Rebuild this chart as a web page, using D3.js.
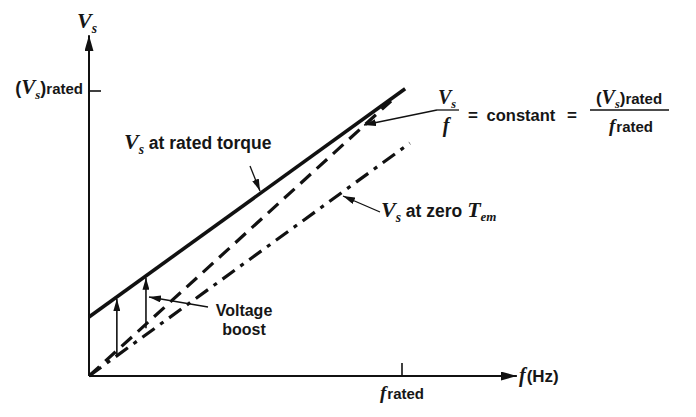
<!DOCTYPE html>
<html>
<head>
<meta charset="utf-8">
<script src="https://cdn.jsdelivr.net/npm/d3@7"></script>
<style>
  body { margin: 0; background: #fff; }
  text { font-family: "Liberation Sans", Arial, sans-serif; font-weight: bold; fill: #161616; }
  .it { font-family: "Liberation Serif", serif; font-style: italic; font-weight: bold; }
</style>
</head>
<body>
<svg id="chart" width="696" height="417"></svg>
<script>
// Per-unit values (f / f_rated, Vs / (Vs)rated)
const axisMax = { f: 1.367, v: 1.196 };
const ratedTorque = [[0, 0.207], [1.01, 1.008]];   // solid
const constantVf = [[0, 0], [0.965, 0.965]];        // dashed, Vs/f = const
const zeroTem = [[0, 0], [1.025, 0.817]];           // dash-dot
const boostAt = [0.089, 0.182];                     // voltage boost arrows
const fTicks = [1];
const vTicks = [1];

const svg = d3.select("#chart");
const x = d3.scaleLinear().domain([0, 1]).range([89, 402]);
const y = d3.scaleLinear().domain([0, 1]).range([376, 91]);

// arrow heads
const defs = svg.append("defs");
function marker(id, w, h) {
    defs.append("marker")
        .attr("id", id)
        .attr("viewBox", `0 ${-h} ${w} ${2 * h}`)
        .attr("refX", w).attr("refY", 0)
        .attr("markerWidth", w).attr("markerHeight", 2 * h)
        .attr("markerUnits", "userSpaceOnUse")
        .attr("orient", "auto")
        .append("path")
        .attr("d", `M0,${-h}L${w},0L0,${h}Z`)
        .attr("fill", "#111");
}
marker("axisHead", 16, 4.5);
marker("leadHead", 12, 3.5);

// axes
svg.append("line")
    .attr("x1", x(0)).attr("y1", y(0))
    .attr("x2", x(axisMax.f)).attr("y2", y(0))
    .attr("stroke", "#111").attr("stroke-width", 2)
    .attr("marker-end", "url(#axisHead)");
svg.append("line")
    .attr("x1", x(0)).attr("y1", y(0))
    .attr("x2", x(0)).attr("y2", y(axisMax.v))
    .attr("stroke", "#111").attr("stroke-width", 2)
    .attr("marker-end", "url(#axisHead)");

svg.selectAll(".ftick").data(fTicks).enter().append("line")
    .attr("x1", d => x(d)).attr("x2", d => x(d))
    .attr("y1", y(0)).attr("y2", y(0) - 13)
    .attr("stroke", "#111").attr("stroke-width", 1.6);
svg.selectAll(".vtick").data(vTicks).enter().append("line")
    .attr("x1", x(0)).attr("x2", x(0) + 12)
    .attr("y1", d => y(d)).attr("y2", d => y(d))
    .attr("stroke", "#111").attr("stroke-width", 1.6);

// characteristic lines
const line = d3.line().x(d => x(d[0])).y(d => y(d[1]));
svg.append("path").datum(ratedTorque)
    .attr("d", line).attr("fill", "none")
    .attr("stroke", "#111").attr("stroke-width", 3.6);
svg.append("path").datum(constantVf)
    .attr("d", line).attr("fill", "none")
    .attr("stroke", "#111").attr("stroke-width", 3.2)
    .attr("stroke-dasharray", "14 8");
svg.append("path").datum(zeroTem)
    .attr("d", line).attr("fill", "none")
    .attr("stroke", "#111").attr("stroke-width", 3.2)
    .attr("stroke-dasharray", "15 7 4 7");

// voltage boost arrows
const rated = f => ratedTorque[0][1] + (ratedTorque[1][1] - ratedTorque[0][1]) / ratedTorque[1][0] * f;
svg.selectAll(".boost").data(boostAt).enter().append("line")
    .attr("x1", d => x(d)).attr("x2", d => x(d))
    .attr("y1", d => y(d) + 4).attr("y2", d => y(rated(d)) + 2)
    .attr("stroke", "#111").attr("stroke-width", 1.6)
    .attr("marker-end", "url(#leadHead)");

// leader lines
function leader(x1, y1, x2, y2) {
    svg.append("line")
        .attr("x1", x1).attr("y1", y1).attr("x2", x2).attr("y2", y2)
        .attr("stroke", "#111").attr("stroke-width", 1.3)
        .attr("marker-end", "url(#leadHead)");
}
leader(250, 166, 260, 191);
leader(380, 212, 343, 196);
leader(437, 110, 364, 125);
leader(208, 307, 149, 297);

// text helpers
function vs(sel, size) {
    sel.append("tspan").attr("class", "it").style("font-size", size + "px").text("V");
    sel.append("tspan").attr("class", "it").style("font-size", (size * 0.62) + "px")
        .attr("dy", size * 0.22).text("s");
}

// axis labels
const vLab = svg.append("text").attr("x", 77).attr("y", 28);
vs(vLab, 22);

const vr = svg.append("text").attr("x", 83).attr("y", 94).attr("text-anchor", "end")
    .style("font-size", "18px");
vr.append("tspan").text("(");
vs(vr, 21);
vr.append("tspan").attr("dy", -4.6).text(")");
vr.append("tspan").style("font-size", "15px").text("rated");

const fr = svg.append("text").attr("x", x(fTicks[0])).attr("y", 399).attr("text-anchor", "middle");
fr.append("tspan").attr("class", "it").style("font-size", "19px").text("f");
fr.append("tspan").style("font-size", "15px").attr("dx", 1).text("rated");

const fh = svg.append("text").attr("x", 519).attr("y", 382).style("font-size", "17px");
fh.append("tspan").attr("class", "it").style("font-size", "20px").text("f");
fh.append("tspan").attr("dx", 1).text("(Hz)");

// curve labels
const t1 = svg.append("text").attr("x", 124).attr("y", 149).style("font-size", "17.5px");
vs(t1, 22);
t1.append("tspan").attr("dy", -4.84).text(" at rated torque");

const t2 = svg.append("text").attr("x", 381).attr("y", 217).style("font-size", "17.5px");
vs(t2, 22);
t2.append("tspan").attr("dy", -4.84).text(" at zero ");
t2.append("tspan").attr("class", "it").style("font-size", "22px").text("T");
t2.append("tspan").attr("class", "it").style("font-size", "13px").attr("dy", 4).text("em");

svg.append("text").attr("x", 244).attr("y", 316).attr("text-anchor", "middle")
    .style("font-size", "16px").text("Voltage");
svg.append("text").attr("x", 244).attr("y", 335).attr("text-anchor", "middle")
    .style("font-size", "16px").text("boost");

// formula: Vs/f = constant = (Vs)rated / frated
const n1 = svg.append("text").attr("x", 447).attr("y", 104).attr("text-anchor", "middle");
vs(n1, 20);
svg.append("line").attr("x1", 437).attr("x2", 459).attr("y1", 110).attr("y2", 110)
    .attr("stroke", "#111").attr("stroke-width", 1.3);
svg.append("text").attr("x", 446).attr("y", 132).attr("text-anchor", "middle")
    .attr("class", "it").style("font-size", "20px").text("f");

svg.append("text").attr("x", 473).attr("y", 121).attr("text-anchor", "middle")
    .style("font-size", "17px").text("=");
svg.append("text").attr("x", 521).attr("y", 121).attr("text-anchor", "middle")
    .style("font-size", "16.5px").text("constant");
svg.append("text").attr("x", 572).attr("y", 121).attr("text-anchor", "middle")
    .style("font-size", "17px").text("=");

const n2 = svg.append("text").attr("x", 629).attr("y", 104).attr("text-anchor", "middle")
    .style("font-size", "17px");
n2.append("tspan").text("(");
vs(n2, 20);
n2.append("tspan").attr("dy", -4.4).text(")");
n2.append("tspan").style("font-size", "15px").text("rated");
svg.append("line").attr("x1", 590).attr("x2", 669).attr("y1", 110).attr("y2", 110)
    .attr("stroke", "#111").attr("stroke-width", 1.3);
const d2 = svg.append("text").attr("x", 631).attr("y", 132).attr("text-anchor", "middle");
d2.append("tspan").attr("class", "it").style("font-size", "19px").text("f");
d2.append("tspan").style("font-size", "15px").attr("dx", 1).text("rated");
</script>
</body>
</html>
